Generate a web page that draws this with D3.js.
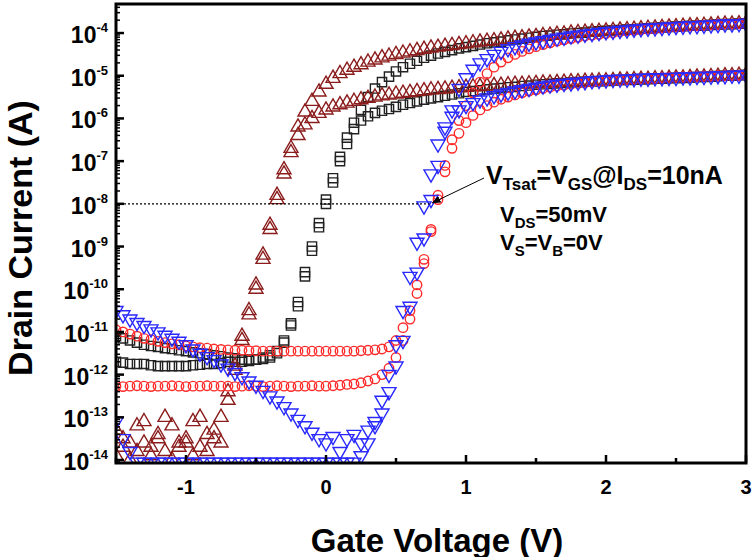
<!DOCTYPE html>
<html><head><meta charset="utf-8">
<script src="https://cdn.jsdelivr.net/npm/d3@7"></script>
<style>body{margin:0;background:#fff}text{font-family:"Liberation Sans",Arial,sans-serif}</style>
</head><body><svg width="752" height="557"></svg>
<script>
// gate voltage sweep, -1.5 V to 3 V in 0.05 V steps
const vgs = d3.range(91).map(i => +(-1.5 + i * 0.05).toFixed(2));
// log10(drain current)
const brownHi = [-13.3,-13.5,-13.6,-13.2,-13.1,-13.7,-13.4,-13.0,-13.2,-13.6,-13.5,-13.1,-13.0,-13.4,-13.3,-13.0,
	-12.4,-11.8,-11.1,-10.5,-9.9,-9.2,-8.5,-7.8,-7.2,-6.7,-6.2,-5.85,-5.6,-5.38,-5.2,
	-5.06,-4.95,-4.87,-4.8,-4.74,-4.68,-4.63,-4.58,-4.54,-4.5,-4.47,-4.44,-4.41,-4.38,-4.35,-4.33,-4.31,-4.29,-4.27,-4.25,
	-4.23,-4.21,-4.19,-4.18,-4.16,-4.14,-4.12,-4.11,-4.09,-4.08,-4.06,-4.05,-4.03,-4.02,-4.0,-3.99,-3.98,-3.97,-3.96,-3.95,-3.94,-3.93,-3.92,-3.91,-3.9,-3.89,-3.88,-3.87,-3.86,-3.85,-3.84,-3.83,-3.83,-3.82,-3.81,-3.8,-3.79,-3.79,-3.78,-3.77];
const brownLo = [-13.9,-13.7,-14.0,-13.8,-13.6,-13.9,-13.5,-13.8,-14.0,-13.7,-13.6,-13.9,-13.7,-13.8,-13.5,-13.6,
	-12.6,-11.9,-11.2,-10.6,-10.0,-9.3,-8.6,-7.9,-7.3,-6.8,-6.4,-6.15,-6.0,-5.88,-5.8,
	-5.73,-5.68,-5.64,-5.6,-5.56,-5.53,-5.5,-5.47,-5.45,-5.43,-5.41,-5.39,-5.37,-5.35,-5.33,-5.32,-5.31,-5.29,-5.28,-5.27,
	-5.26,-5.25,-5.24,-5.23,-5.22,-5.21,-5.2,-5.2,-5.19,-5.18,-5.17,-5.17,-5.16,-5.15,-5.14,-5.14,-5.13,-5.13,-5.12,-5.12,-5.11,-5.1,-5.1,-5.09,-5.08,-5.08,-5.07,-5.07,-5.06,-5.05,-5.05,-5.04,-5.03,-5.03,-5.02,-5.01,-5.0,-5.0,-4.99,-4.98];
const blackHi = [-11.1,-11.15,-11.2,-11.25,-11.3,-11.33,-11.35,-11.38,-11.4,-11.43,-11.45,-11.48,-11.5,-11.52,-11.55,-11.57,
	-11.6,-11.62,-11.65,-11.65,-11.65,-11.63,-11.6,-11.5,-11.2,-10.8,-10.3,-9.6,-9.0,-8.45,-7.9,
	-7.4,-6.9,-6.45,-6.1,-5.8,-5.5,-5.3,-5.15,-5.02,-4.9,-4.8,-4.72,-4.65,-4.58,-4.53,-4.48,-4.44,-4.4,-4.36,-4.33,
	-4.3,-4.27,-4.24,-4.22,-4.2,-4.17,-4.15,-4.13,-4.11,-4.09,-4.07,-4.06,-4.04,-4.03,-4.01,-4.0,-3.99,-3.97,-3.96,-3.95,-3.94,-3.93,-3.92,-3.91,-3.9,-3.89,-3.88,-3.87,-3.86,-3.85,-3.84,-3.83,-3.83,-3.82,-3.81,-3.8,-3.79,-3.79,-3.78,-3.77];
const blackLo = [-11.7,-11.72,-11.75,-11.75,-11.75,-11.78,-11.8,-11.8,-11.8,-11.8,-11.8,-11.78,-11.77,-11.75,-11.75,-11.73,
	-11.7,-11.7,-11.7,-11.68,-11.65,-11.6,-11.55,-11.45,-11.25,-10.85,-10.4,-9.7,-9.1,-8.55,-8.0,
	-7.5,-7.0,-6.6,-6.25,-6.05,-5.95,-5.87,-5.82,-5.78,-5.73,-5.68,-5.64,-5.6,-5.56,-5.53,-5.5,-5.47,-5.44,-5.41,-5.38,
	-5.36,-5.34,-5.32,-5.3,-5.29,-5.27,-5.26,-5.24,-5.23,-5.21,-5.2,-5.19,-5.18,-5.17,-5.16,-5.15,-5.14,-5.13,-5.13,-5.12,-5.11,-5.1,-5.1,-5.09,-5.08,-5.08,-5.07,-5.07,-5.06,-5.05,-5.05,-5.04,-5.03,-5.03,-5.02,-5.01,-5.0,-5.0,-4.99,-4.98];
const blueHi = [-10.5,-10.6,-10.7,-10.78,-10.85,-10.93,-11.0,-11.08,-11.15,-11.22,-11.3,-11.4,-11.5,-11.58,-11.65,-11.75,
	-11.85,-11.95,-12.05,-12.15,-12.25,-12.37,-12.5,-12.62,-12.75,-12.9,-13.05,-13.2,-13.35,-13.5,-13.6,
	-13.45,-13.8,-13.5,-13.4,-13.6,-13.3,-13.2,-12.9,-12.4,-11.8,-11.2,-10.4,-9.6,-8.8,-7.9,-7.1,-6.3,-5.8,-5.3,-5.05,
	-4.85,-4.7,-4.6,-4.5,-4.43,-4.37,-4.32,-4.28,-4.24,-4.21,-4.18,-4.15,-4.12,-4.1,-4.07,-4.05,-4.03,-4.01,-3.99,-3.97,-3.96,-3.94,-3.93,-3.91,-3.9,-3.89,-3.88,-3.87,-3.86,-3.85,-3.84,-3.83,-3.83,-3.82,-3.81,-3.8,-3.79,-3.79,-3.78,-3.77];
const blueLo = [-13.1,-13.5,-13.8,-14.05,-14.05,-14.05,-14.05,-14.05,-14.05,-14.05,-14.05,-14.05,-14.05,-14.05,-14.05,-14.05,
	-14.05,-14.05,-14.05,-14.05,-14.05,-14.05,-14.05,-14.05,-14.05,-14.05,-14.05,-14.05,-14.05,-14.05,-14.05,
	-14.05,-14.05,-14.05,-14.05,-13.9,-13.6,-13.1,-12.6,-12.0,-11.3,-10.5,-9.7,-8.9,-8.05,-7.3,-6.6,-6.2,-5.95,-5.8,-5.7,
	-5.63,-5.57,-5.52,-5.47,-5.43,-5.39,-5.36,-5.33,-5.3,-5.27,-5.24,-5.22,-5.2,-5.18,-5.17,-5.15,-5.14,-5.12,-5.11,-5.1,-5.09,-5.08,-5.08,-5.07,-5.06,-5.06,-5.05,-5.05,-5.04,-5.04,-5.03,-5.03,-5.02,-5.02,-5.01,-5.0,-5.0,-4.99,-4.99,-4.98];
const redHi = [-10.95,-11.0,-11.05,-11.1,-11.15,-11.18,-11.22,-11.25,-11.28,-11.3,-11.33,-11.35,-11.37,-11.38,-11.4,-11.41,
	-11.42,-11.43,-11.43,-11.44,-11.44,-11.45,-11.45,-11.45,-11.45,-11.45,-11.45,-11.45,-11.45,-11.45,-11.45,
	-11.45,-11.45,-11.45,-11.45,-11.44,-11.43,-11.42,-11.4,-11.35,-11.2,-10.9,-10.5,-9.9,-9.3,-8.6,-7.8,-7.1,-6.5,-6.05,-5.7,
	-5.4,-5.15,-4.95,-4.8,-4.68,-4.58,-4.5,-4.43,-4.37,-4.32,-4.27,-4.23,-4.19,-4.16,-4.13,-4.1,-4.07,-4.05,-4.03,-4.01,-3.99,-3.97,-3.95,-3.94,-3.92,-3.91,-3.9,-3.88,-3.87,-3.86,-3.85,-3.84,-3.83,-3.82,-3.81,-3.8,-3.79,-3.79,-3.78,-3.77];
const redLo = [-12.27,-12.28,-12.27,-12.26,-12.27,-12.28,-12.27,-12.27,-12.26,-12.27,-12.28,-12.27,-12.27,-12.26,-12.27,-12.27,
	-12.27,-12.28,-12.27,-12.26,-12.27,-12.28,-12.27,-12.26,-12.27,-12.28,-12.27,-12.27,-12.26,-12.27,-12.27,
	-12.26,-12.25,-12.23,-12.22,-12.19,-12.15,-12.1,-12.0,-11.85,-11.6,-11.2,-10.7,-10.1,-9.4,-8.65,-7.9,-7.25,-6.7,-6.35,-6.1,
	-5.93,-5.8,-5.7,-5.62,-5.55,-5.5,-5.45,-5.4,-5.36,-5.33,-5.3,-5.27,-5.24,-5.22,-5.2,-5.18,-5.16,-5.15,-5.13,-5.12,-5.11,-5.1,-5.09,-5.08,-5.07,-5.06,-5.06,-5.05,-5.04,-5.04,-5.03,-5.02,-5.02,-5.01,-5.01,-5.0,-5.0,-4.99,-4.99,-4.98];
const xTicks = [-1, 0, 1, 2, 3];
const yTicks = [-14, -13, -12, -11, -10, -9, -8, -7, -6, -5, -4];

const svg = d3.select('svg');
const L = 116, R = 746, T = 4, B = 463;
const x = d3.scaleLinear().domain([-1.5, 3]).range([L, R]);
const y = d3.scaleLinear().domain([-14.07, -3.32]).range([B, T]);

const series = [
	{ d: blackLo, c: '#222', s: d3.symbolSquare },
	{ d: blackHi, c: '#222', s: d3.symbolSquare },
	{ d: brownLo, c: '#8b1c1c', s: d3.symbolTriangle },
	{ d: brownHi, c: '#8b1c1c', s: d3.symbolTriangle },
	{ d: redLo, c: '#ff2a2a', s: d3.symbolCircle },
	{ d: redHi, c: '#ff2a2a', s: d3.symbolCircle },
	{ d: blueLo, c: '#2828ff', s: 'down' },
	{ d: blueHi, c: '#2828ff', s: 'down' }
];

svg.append('clipPath').attr('id', 'clip').append('rect')
	.attr('x', L).attr('y', T).attr('width', R - L).attr('height', B - T);
const g = svg.append('g').attr('clip-path', 'url(#clip)');

series.forEach(sr => {
	const sym = d3.symbol().type(sr.s === 'down' ? d3.symbolTriangle : sr.s).size(sr.s === d3.symbolCircle ? 70 : 85);
	g.selectAll(null).data(sr.d).enter().append('path')
		.attr('d', sym)
		.attr('transform', (v, i) => 'translate(' + x(vgs[i]) + ',' + y(v) + ')' + (sr.s === 'down' ? ' rotate(180)' : ''))
		.attr('fill', 'none').attr('stroke', sr.c).attr('stroke-width', 1.4);
});

// dotted VTsat line
svg.append('line').attr('x1', x(-1.5)).attr('x2', x(0.74)).attr('y1', y(-8)).attr('y2', y(-8))
	.attr('stroke', '#000').attr('stroke-width', 1.3).attr('stroke-dasharray', '2,2');

// frame
svg.append('rect').attr('x', L).attr('y', T).attr('width', R - L).attr('height', B - T)
	.attr('fill', 'none').attr('stroke', '#000').attr('stroke-width', 3);

// ticks (inward)
const ax = svg.append('g').attr('stroke', '#000').attr('stroke-width', 2.5);
d3.range(-1.5, 3.01, 0.5).forEach(v => {
	const major = Number.isInteger(v);
	ax.append('line').attr('x1', x(v)).attr('x2', x(v)).attr('y1', B).attr('y2', B - (major ? 8 : 5));
});
yTicks.concat([-3]).forEach(e => {
	if (y(e) >= T && y(e) <= B) ax.append('line').attr('x1', L).attr('x2', L + 8).attr('y1', y(e)).attr('y2', y(e));
	for (let k = 2; k < 10; k++) {
		const yy = y(e - 1 + Math.log10(k));
		if (yy > T && yy < B) ax.append('line').attr('x1', L).attr('x2', L + 4).attr('y1', yy).attr('y2', yy).attr('stroke-width', 1.5);
	}
});

// tick labels
svg.selectAll('.xl').data(xTicks).enter().append('text')
	.attr('x', d => x(d)).attr('y', 494).attr('text-anchor', 'middle')
	.attr('font-size', 20).attr('font-weight', 'bold').text(d => d);
yTicks.forEach(e => {
	const t = svg.append('text').attr('x', 108).attr('y', y(e) + 10).attr('text-anchor', 'end')
		.attr('font-size', 23).attr('font-weight', 'bold');
	t.append('tspan').text('10');
	t.append('tspan').attr('dy', -11).attr('font-size', 13).text(e);
});

// axis titles
svg.append('text').attr('transform', 'translate(32,238) rotate(-90)').attr('text-anchor', 'middle')
	.attr('font-size', 34).attr('font-weight', 'bold').text('Drain Current (A)');
svg.append('text').attr('x', 437).attr('y', 552).attr('text-anchor', 'middle')
	.attr('font-size', 33).attr('font-weight', 'bold').text('Gate Voltage (V)');

// annotations
function label(px, py, parts, size) {
	const t = svg.append('text').attr('x', px).attr('y', py).attr('font-size', size)
		.attr('font-family', 'Noto Sans, sans-serif').attr('font-weight', 600);
	let down = false;
	parts.forEach(p => {
		const s = t.append('tspan').text(p[0]);
		if (p[1] && !down) { s.attr('font-size', size * 0.68).attr('dy', 6); down = true; }
		else if (!p[1] && down) { s.attr('dy', -6); down = false; }
		else if (p[1]) s.attr('font-size', size * 0.68);
	});
}
label(486, 184, [['V'], ['Tsat', 1], ['=V'], ['GS', 1], ['@I'], ['DS', 1], ['=10nA']], 25);
label(500, 222, [['V'], ['DS', 1], ['=50mV']], 22);
label(500, 250, [['V'], ['S', 1], ['=V'], ['B', 1], ['=0V']], 22);

svg.append('defs').append('marker').attr('id', 'ah').attr('viewBox', '0 0 10 10').attr('refX', 9).attr('refY', 5)
	.attr('markerWidth', 9).attr('markerHeight', 9).attr('orient', 'auto')
	.append('path').attr('d', 'M0,1L10,5L0,9z').attr('fill', '#000');
svg.append('line').attr('x1', 484).attr('y1', 178).attr('x2', x(0.76)).attr('y2', y(-8) - 1)
	.attr('stroke', '#000').attr('stroke-width', 1).attr('marker-end', 'url(#ah)');
</script></body></html>
